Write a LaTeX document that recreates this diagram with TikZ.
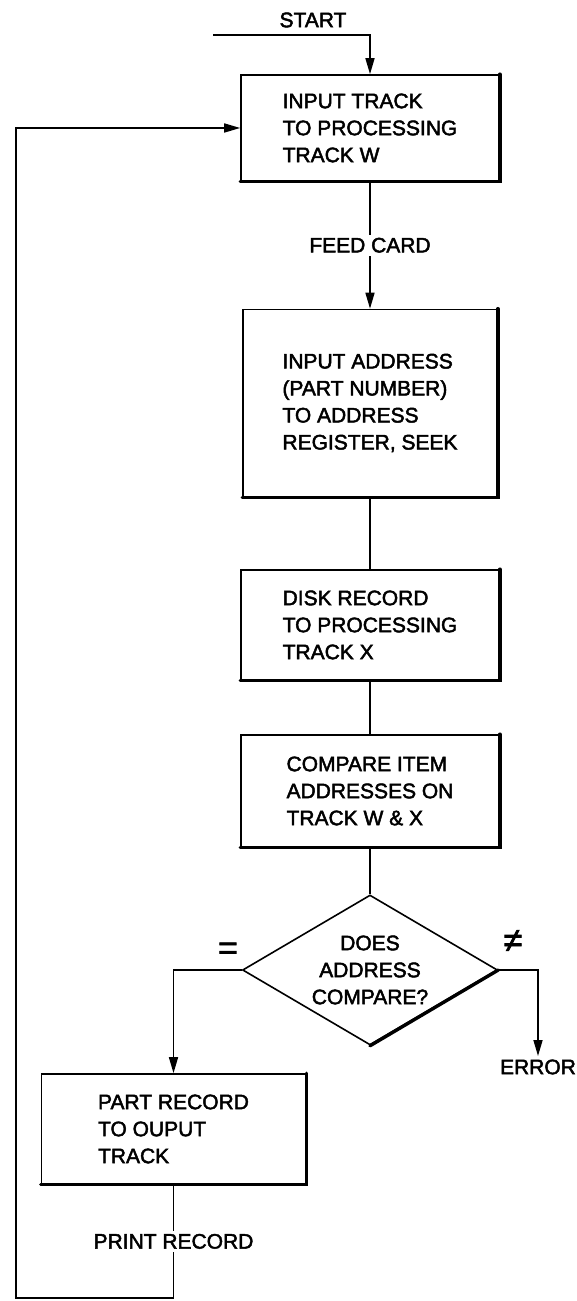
\documentclass[tikz,border=0pt]{standalone}
\usepackage{fontspec}
\setmainfont{Liberation Sans}[FakeBold=2.2]
\usetikzlibrary{
    shapes.geometric,
    arrows.meta,
    positioning,
    calc
}

\begin{document}
\begin{tikzpicture}[x=10pt, y=10pt,
    txt/.style={font=\fontsize{21}{27}\selectfont},
    procbox/.style={txt, draw, fill=white, line width=1.6pt, align=left, inner sep=0pt},
    decision/.style={txt, diamond, draw, fill=white, line width=1.6pt, align=center,
        aspect=1.7, inner sep=0pt, minimum width=255pt, minimum height=150pt},
    heavy/.style={line width=3.4pt, line cap=round},
    flowlbl/.style={txt, fill=white, inner sep=3pt},
    flow/.style={line width=1.6pt, -{Triangle[length=16pt, width=9pt]}},
    link/.style={line width=1.6pt}]
    \useasboundingbox (0,0) rectangle (57.7,130.1);

    % Start
    \node[txt] (startlbl) at (31.3,128.1) {START};
    \coordinate (start) at (21.3,126.6);

    % Processing steps
    \node[procbox, minimum width=258pt, minimum height=106pt] (input) at (37.0,117.3)
        {INPUT TRACK\\TO PROCESSING\\TRACK W};
    \node[procbox, minimum width=254pt, minimum height=187pt] (addr) at (37.0,89.8)
        {INPUT ADDRESS\\(PART NUMBER)\\TO ADDRESS\\REGISTER, SEEK};
    \node[procbox, minimum width=258pt, minimum height=110pt] (disk) at (37.0,67.6)
        {DISK RECORD\\TO PROCESSING\\TRACK X};
    \node[procbox, minimum width=258pt, minimum height=112pt] (cmp) at (37.0,51.0)
        {COMPARE ITEM\\ADDRESSES ON\\TRACK W \& X};

    % Decision
    \node[decision] (decide) at (37.0,33.1) {DOES\\ADDRESS\\COMPARE?};
    \node[font=\fontsize{34}{34}\selectfont] (eqsign) at (22.8,35.0) {=};
    \node[font=\fontsize{34}{34}\selectfont] (neqsign) at (51.3,36.0) {≠};
    \node[txt] (error) at (53.8,23.4) {ERROR};

    % Output
    \node[procbox, minimum width=264pt, minimum height=110pt] (partrec) at (17.35,17.2)
        {PART RECORD\\TO OUPUT\\TRACK};
    \coordinate (corner) at (1.6,0.3);

    % Heavy lower and right edges
    \foreach \b in {input,addr,disk,cmp,partrec}
        \draw[heavy] (\b.north east) -- (\b.south east) -- (\b.south west);
    \draw[heavy] (decide.east) -- (decide.south);

    % Connectors
    \draw[flow] (start) -| (input.north);
    \draw[flow] (input.south) -- node[flowlbl] {FEED CARD} (addr.north);
    \draw[link] (addr.south) -- (disk.north);
    \draw[link] (disk.south) -- (cmp.north);
    \draw[link] (cmp.south) -- (decide.north);
    \draw[flow] (decide.west) -| (partrec.north);
    \draw[flow] (decide.east) -| (error.north);

    % Loop back
    \draw[flow] (partrec.south) -- node[flowlbl] {PRINT RECORD} (partrec.south |- corner)
        -- (corner) |- (input.west);
\end{tikzpicture}
\end{document}
